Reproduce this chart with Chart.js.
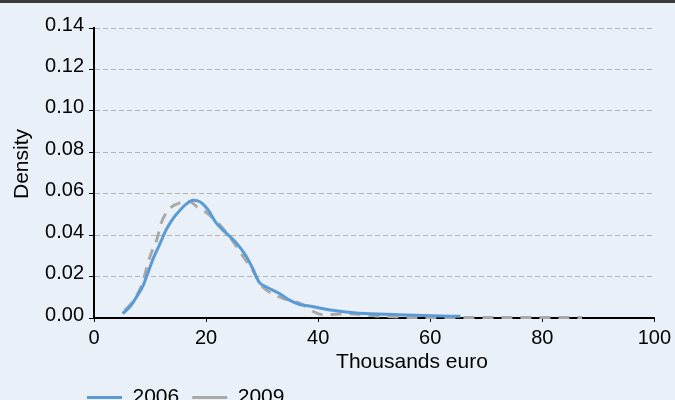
<!DOCTYPE html>
<html>
<head>
<meta charset="utf-8">
<script src="https://cdn.jsdelivr.net/npm/chart.js@4.4.1/dist/chart.umd.min.js"></script>
<style>
  html, body { margin: 0; padding: 0; overflow: hidden; background: #e9f0f7; }
  #wrap { position: relative; width: 675px; height: 400px; overflow: hidden; }
  #topbar { position: absolute; left: 0; top: 0; width: 675px; height: 3px; background: #3b3b3b; z-index: 2; }
  #densityChart { position: absolute; left: 0; top: 0; }
</style>
</head>
<body>
<div id="wrap">
  <div id="topbar"></div>
  <canvas id="densityChart" width="675" height="418"></canvas>
</div>
<script>
// kernel density estimates (x in thousands euro)
const x2006 = [5.1, 6.4, 7.6, 8.8, 9.7, 10.6, 11.7, 12.9, 14.1, 15.3, 16.5, 17.7, 18.9, 19.8, 20.6, 21.8, 23.6, 25.4, 27.2, 28.3, 29.5, 30.7, 33.1, 34.9, 36.7, 38.4, 42.6, 47.3, 54.4, 60.3, 65.4];
const y2006 = [0.0021, 0.0054, 0.0102, 0.0159, 0.0224, 0.0289, 0.0354, 0.0427, 0.0480, 0.0519, 0.0551, 0.0568, 0.0561, 0.0540, 0.0512, 0.0459, 0.0410, 0.0362, 0.0297, 0.0240, 0.0172, 0.0151, 0.0118, 0.0086, 0.0065, 0.0058, 0.0037, 0.0023, 0.0016, 0.0011, 0.0008];

const x2009 = [5.5, 7.0, 8.5, 10.0, 11.2, 12.0, 13.2, 15.3, 17.1, 18.6, 20.1, 22.4, 24.8, 26.6, 28.3, 29.8, 33.1, 37.2, 39.0, 40.8, 45.0, 50.3, 56.2, 65.0, 75.0, 87.1];
const y2009 = [0.0037, 0.0081, 0.0159, 0.0297, 0.0378, 0.0459, 0.0519, 0.0556, 0.0561, 0.0532, 0.0508, 0.0451, 0.0370, 0.0297, 0.0232, 0.0159, 0.0102, 0.0065, 0.0033, 0.0016, 0.0021, 0.0010, 0.0003, 0.0002, 0.0002, 0.0002];

const xTicks = [0, 20, 40, 60, 80, 100];
const yTicks = [0, 0.02, 0.04, 0.06, 0.08, 0.10, 0.12, 0.14];

const xTitle = 'Thousands euro';
const yTitle = 'Density';

const toPoints = (xs, ys) => xs.map((x, i) => ({ x: x, y: ys[i] }));

Chart.defaults.font.family = '"Liberation Sans", Arial, sans-serif';
Chart.defaults.font.size = 20;
Chart.defaults.color = '#000';

// move the bottom legend so it lines up under the plot like the original
const legendShift = {
    id: 'legendShift',
    afterLayout(chart) {
        chart.legend.left = 74;
    }
};

// axis titles sit off-centre in the original, so draw them here
const axisTitles = {
    id: 'axisTitles',
    afterDraw(chart) {
        const ctx = chart.ctx;
        const area = chart.chartArea;
        ctx.save();
        ctx.fillStyle = '#000';
        ctx.font = '21px "Liberation Sans", Arial, sans-serif';
        ctx.textAlign = 'center';
        ctx.textBaseline = 'middle';
        ctx.fillText(xTitle, area.left + 318, area.bottom + 44);
        ctx.translate(22, area.top + 136);
        ctx.rotate(-Math.PI / 2);
        ctx.fillText(yTitle, 0, 0);
        ctx.restore();
    }
};

new Chart(document.getElementById('densityChart'), {
    type: 'line',
    data: {
        datasets: [{
            label: '2006',
            data: toPoints(x2006, y2006),
            borderColor: '#5b9bd5',
            borderWidth: 3,
            pointRadius: 0,
            pointStyle: 'line',
            cubicInterpolationMode: 'monotone',
            clip: false
        }, {
            label: '2009',
            data: toPoints(x2009, y2009),
            borderColor: '#a9a9a9',
            borderWidth: 3,
            borderDash: [11, 8],
            pointRadius: 0,
            pointStyle: 'line',
            cubicInterpolationMode: 'monotone',
            clip: false
        }]
    },
    options: {
        responsive: false,
        animation: false,
        events: [],
        layout: {
            padding: { left: 0, right: 19, top: 28, bottom: 0 }
        },
        plugins: {
            tooltip: { enabled: false },
            legend: {
                position: 'bottom',
                align: 'start',
                labels: {
                    usePointStyle: true,
                    pointStyleWidth: 35,
                    boxHeight: 21,
                    padding: 13,
                    font: { size: 21 }
                }
            }
        },
        scales: {
            x: {
                type: 'linear',
                min: 0,
                max: 100,
                afterBuildTicks: (scale) => { scale.ticks = xTicks.map(v => ({ value: v })); },
                afterFit: (scale) => { scale.height = 56; },
                ticks: { padding: 4, autoSkip: false, maxRotation: 0 },
                grid: { drawOnChartArea: false, tickColor: '#000', tickLength: 4 },
                border: { color: '#000', width: 2 }
            },
            y: {
                min: 0,
                max: 0.14,
                afterBuildTicks: (scale) => { scale.ticks = yTicks.map(v => ({ value: v })); },
                afterFit: (scale) => { scale.width = 94; },
                ticks: {
                    padding: 5,
                    labelOffset: -3,
                    callback: (v) => Number(v).toFixed(2)
                },
                grid: { color: '#b3b3b3', lineWidth: 1, tickColor: '#000', tickLength: 5 },
                border: { color: '#000', width: 2, dash: [5, 3] }
            }
        }
    },
    plugins: [legendShift, axisTitles]
});
</script>
</body>
</html>
